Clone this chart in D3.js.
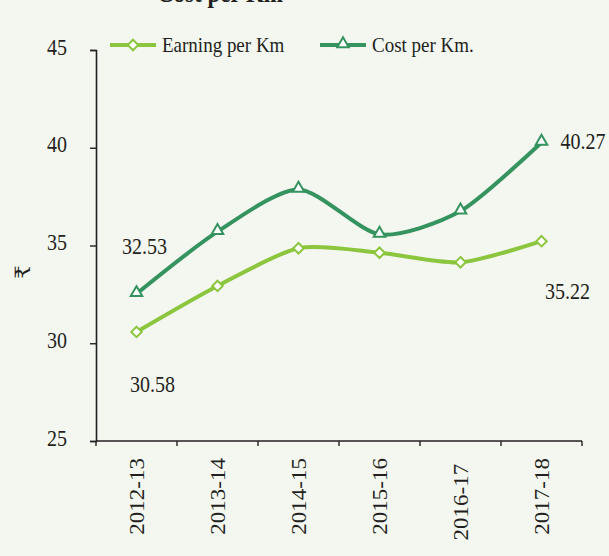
<!DOCTYPE html>
<html>
<head>
<meta charset="utf-8">
<script src="https://cdn.jsdelivr.net/npm/d3@7"></script>
<style>
  html, body { margin: 0; padding: 0; background: #f3f7f0; }
  svg { display: block; }
  text { font-family: "Liberation Serif", "Times New Roman", serif; fill: #231f20; }
</style>
</head>
<body>
<svg id="chart" width="609" height="556"></svg>
<script>
// Financial years on the category axis
const years = ["2012-13", "2013-14", "2014-15", "2015-16", "2016-17 ", "2017-18"];
// Earning per Km (₹)
const earning = [30.58, 32.93, 34.86, 34.63, 34.14, 35.22];
// Cost per Km (₹)
const cost = [32.53, 35.71, 37.87, 35.57, 36.76, 40.27];
// Value-axis ticks
const yTicks = [25, 30, 35, 40, 45];
// Series names for the legend
const seriesNames = ["Earning per Km", "Cost per Km."];
const titleText = "Cost per Km";
const unitLabel = "₹";

const colEarn = "#8cc63f";
const colCost = "#35935f";
const vStretch = 1.15;

const svg = d3.select("#chart");
const W = 609, H = 556;
svg.append("rect").attr("width", W).attr("height", H).attr("fill", "#f3f7f0");

const x = d3.scaleBand().domain(years).range([96, 582]).padding(0);
const y = d3.scaleLinear().domain([25, 45]).range([441, 50]);
const xc = d => x(d) + x.bandwidth() / 2;

// Title (top of the card, partly above the page edge)
svg.append("text")
  .attr("transform", `translate(220,2) scale(1,${vStretch})`)
  .attr("text-anchor", "middle")
  .attr("font-size", 23).attr("font-weight", "bold")
  .text(titleText);

// Y axis
const yAxis = svg.append("g").attr("transform", "translate(96,0)")
  .call(d3.axisLeft(y).tickValues(yTicks).tickSize(6).tickPadding(0).tickFormat(d3.format("d")));
yAxis.select(".domain").attr("stroke", "#231f20").attr("stroke-width", 1.6);
yAxis.selectAll(".tick line").attr("stroke", "#231f20").attr("stroke-width", 1.4);
yAxis.selectAll(".tick text").each(function() {
  const t = d3.select(this);
  t.attr("x", null).attr("dy", null)
   .attr("transform", `translate(-29,4) scale(1,${vStretch})`)
   .attr("font-size", 20).attr("font-family", "Liberation Serif").attr("fill", "#231f20");
});

// X axis: ticks on band boundaries
const xAxisG = svg.append("g").attr("transform", "translate(0,441)");
xAxisG.append("line").attr("x1", 96).attr("x2", 582).attr("stroke", "#231f20").attr("stroke-width", 1.6);
const bounds = years.map(d => x(d)).concat([x(years[years.length - 1]) + x.bandwidth()]);
xAxisG.selectAll("line.tk").data(bounds).join("line").attr("class", "tk")
  .attr("x1", d => d).attr("x2", d => d).attr("y1", 0).attr("y2", 5)
  .attr("stroke", "#231f20").attr("stroke-width", 1.4);
xAxisG.selectAll("text.yr").data(years).join("text").attr("class", "yr")
  .attr("transform", d => `translate(${xc(d) + 7},17) rotate(-90) scale(${vStretch},1)`)
  .attr("text-anchor", "end")
  .attr("font-size", 20)
  .style("white-space", "pre")
  .text(d => d);

// Unit label
svg.append("text")
  .attr("transform", "translate(30,272) rotate(-90)")
  .attr("text-anchor", "middle")
  .attr("font-size", 21)
  .attr("font-family", "DejaVu Serif, DejaVu Sans, Noto Sans, serif")
  .style("font-family", "'DejaVu Serif', 'DejaVu Sans', 'Noto Sans', serif")
  .text(unitLabel);

// Lines
const line = d3.line().x((d, i) => xc(years[i])).y(d => y(d)).curve(d3.curveCardinal.tension(0.25));
svg.append("path").datum(earning).attr("d", line)
  .attr("fill", "none").attr("stroke", colEarn).attr("stroke-width", 4).attr("stroke-linejoin", "round");
svg.append("path").datum(cost).attr("d", line)
  .attr("fill", "none").attr("stroke", colCost).attr("stroke-width", 4).attr("stroke-linejoin", "round");

const diamond = d3.symbol().type(d3.symbolDiamond2).size(70);
const triangle = d3.symbol().type(d3.symbolTriangle2).size(95);

svg.selectAll("path.em").data(earning).join("path").attr("class", "em")
  .attr("d", diamond)
  .attr("transform", (d, i) => `translate(${xc(years[i])},${y(d)})`)
  .attr("fill", "#ffffff").attr("stroke", colEarn).attr("stroke-width", 2);
svg.selectAll("path.cm").data(cost).join("path").attr("class", "cm")
  .attr("d", triangle)
  .attr("transform", (d, i) => `translate(${xc(years[i])},${y(d) - 1})`)
  .attr("fill", "#ffffff").attr("stroke", colCost).attr("stroke-width", 2);

// Value labels at the first and last points
const fmt = d3.format(".2f");
const last = years.length - 1;
const labels = [
  { v: cost[0], i: 0, dx: 8, dy: -40, anchor: "middle" },
  { v: earning[0], i: 0, dx: 16, dy: 60, anchor: "middle" },
  { v: cost[last], i: last, dx: 19, dy: 7, anchor: "start" },
  { v: earning[last], i: last, dx: 26, dy: 58, anchor: "middle" }
];
svg.selectAll("text.vl").data(labels).join("text").attr("class", "vl")
  .attr("transform", d => `translate(${xc(years[d.i]) + d.dx},${y(d.v) + d.dy}) scale(1,${vStretch})`)
  .attr("text-anchor", d => d.anchor)
  .attr("font-size", 20)
  .text(d => fmt(d.v));

// Legend
const legend = svg.append("g");
const legItems = [
  { name: seriesNames[0], color: colEarn, sym: diamond, x0: 110 },
  { name: seriesNames[1], color: colCost, sym: triangle, x0: 320 }
];
legItems.forEach(it => {
  legend.append("line").attr("x1", it.x0).attr("x2", it.x0 + 46).attr("y1", 45).attr("y2", 45)
    .attr("stroke", it.color).attr("stroke-width", 4);
  legend.append("path").attr("d", it.sym)
    .attr("transform", `translate(${it.x0 + 23},${it.sym === triangle ? 44 : 45})`)
    .attr("fill", "#ffffff").attr("stroke", it.color).attr("stroke-width", 2);
  legend.append("text")
    .attr("transform", `translate(${it.x0 + 52},52) scale(1,${vStretch})`)
    .attr("font-size", 19)
    .text(it.name);
});
</script>
</body>
</html>
